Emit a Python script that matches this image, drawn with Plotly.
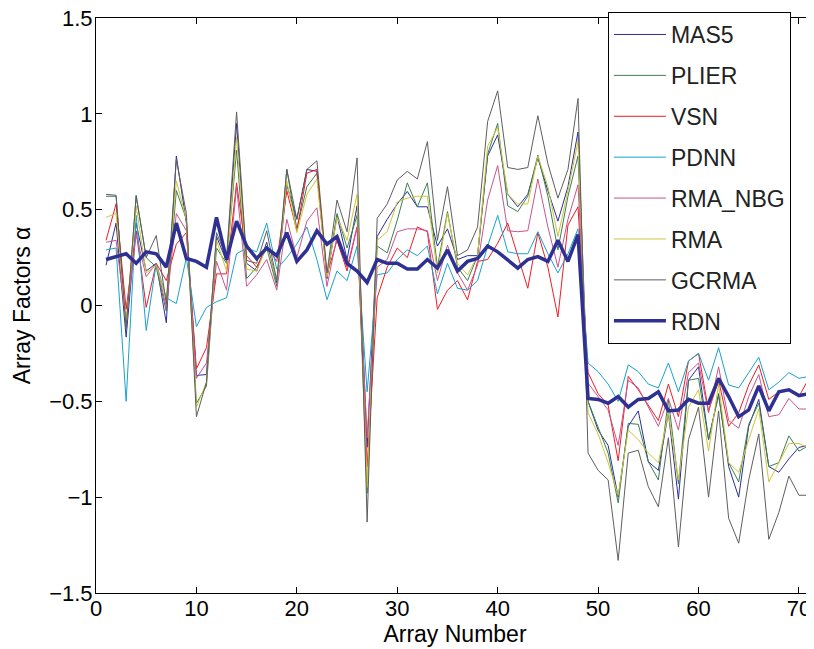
import plotly.graph_objects as go

array_number = list(range(1, 73))

mas5 = [0.21, 0.43, -0.165, 0.43, 0.18, 0.22, -0.09, 0.78, 0.43, -0.365,
        -0.36, 0.36, 0.23, 0.95, 0.22, 0.18, 0.33, 0.12, 0.63, 0.45,
        0.71, 0.70, 0.14, 0.47, 0.24, 0.52, -0.74, 0.36, 0.45, 0.53,
        0.595, 0.515, 0.515, 0.31, 0.40, 0.24, 0.26, 0.26, 0.78, 0.89,
        0.58, 0.515, 0.58, 0.77, 0.60, 0.44, 0.62, 0.905, -0.50, -0.65,
        -0.73, -1.00, -0.63, -0.55, -0.815, -0.86, -0.56, -1.01, -0.39, -0.32,
        -0.70, -0.46, -0.84, -1.00, -0.63, -0.49, -0.84, -0.87, -0.80, -0.74,
        -0.73, -0.76]

plier = [0.57, 0.57, -0.12, 0.57, 0.25, 0.20, -0.03, 0.60, 0.45, -0.51,
         -0.42, 0.30, 0.22, 0.81, 0.14, 0.20, 0.30, 0.10, 0.71, 0.40,
         0.62, 0.69, 0.15, 0.48, 0.30, 0.47, -0.98, 0.31, 0.275, 0.445,
         0.64, 0.515, 0.64, 0.20, 0.49, 0.20, 0.13, 0.26, 0.79, 0.95,
         0.52, 0.49, 0.57, 0.785, 0.57, 0.29, 0.57, 0.78, -0.50, -0.63,
         -0.77, -1.03, -0.615, -0.62, -0.815, -0.91, -0.49, -0.93, -0.39, -0.38,
         -0.70, -0.47, -0.82, -0.92, -0.62, -0.51, -0.84, -0.82, -0.68, -0.76,
         -0.73, -0.75]

vsn = [0.34, 0.53, -0.02, 0.39, -0.01, 0.22, 0.13, 0.32, 0.38, -0.33,
       -0.22, 0.165, 0.165, 0.64, 0.26, 0.20, 0.31, 0.23, 0.60, 0.39,
       0.69, 0.71, 0.16, 0.34, 0.18, 0.41, -0.84, 0.04, 0.20, 0.30,
       0.25, 0.41, 0.385, -0.02, 0.08, 0.13, 0.03, 0.23, 0.24, 0.325,
       0.43, 0.26, 0.09, 0.38, 0.20, -0.06, 0.42, 0.515, -0.35, -0.46,
       -0.52, -0.81, -0.37, -0.44, -0.52, -0.60, -0.41, -0.58, -0.29, -0.25,
       -0.55, -0.39, -0.63, -0.56, -0.415, -0.31, -0.49, -0.45, -0.44, -0.475,
       -0.38, -0.40]

pdnn = [0.29, 0.30, -0.50, 0.47, -0.13, 0.22, 0.04, 0.01, 0.25, -0.11,
        -0.01, 0.02, 0.04, 0.27, 0.30, 0.28, 0.43, 0.19, 0.25, 0.32,
        0.41, 0.24, 0.03, 0.18, 0.13, 0.31, -0.45, 0.16, 0.17, 0.24,
        0.29, 0.26, 0.31, 0.06, 0.22, 0.09, 0.08, 0.13, 0.31, 0.47,
        0.28, 0.27, 0.27, 0.385, 0.27, 0.17, 0.27, 0.40, -0.30, -0.345,
        -0.41, -0.50, -0.31, -0.345, -0.41, -0.43, -0.30, -0.45, -0.29, -0.25,
        -0.39, -0.22, -0.415, -0.43, -0.35, -0.27, -0.44, -0.40, -0.35, -0.38,
        -0.37, -0.36]

rma_nbg = [0.33, 0.34, -0.08, 0.37, 0.15, 0.22, -0.01, 0.48, 0.39, -0.38,
           -0.30, 0.23, 0.08, 0.62, 0.10, 0.16, 0.24, 0.08, 0.45, 0.25,
           0.44, 0.51, 0.10, 0.36, 0.20, 0.41, -0.69, 0.20, 0.24, 0.385,
           0.40, 0.40, 0.39, 0.13, 0.315, 0.17, 0.08, 0.21, 0.55, 0.73,
           0.39, 0.385, 0.39, 0.66, 0.41, 0.20, 0.45, 0.63, -0.405, -0.475,
           -0.545, -0.73, -0.39, -0.43, -0.53, -0.63, -0.485, -0.65, -0.35, -0.30,
           -0.56, -0.32, -0.60, -0.64, -0.475, -0.36, -0.58, -0.57, -0.485, -0.54,
           -0.54, -0.55]

rma = [0.46, 0.48, -0.10, 0.52, 0.17, 0.21, 0.03, 0.65, 0.45, -0.53,
       -0.40, 0.34, 0.18, 0.88, 0.19, 0.18, 0.31, 0.13, 0.65, 0.38,
       0.58, 0.66, 0.15, 0.46, 0.34, 0.58, -0.95, 0.34, 0.385, 0.54,
       0.56, 0.57, 0.57, 0.17, 0.48, 0.22, 0.16, 0.26, 0.83, 0.93,
       0.58, 0.53, 0.53, 0.78, 0.62, 0.36, 0.60, 0.855, -0.56, -0.67,
       -0.82, -0.99, -0.65, -0.70, -0.77, -0.82, -0.56, -0.91, -0.53, -0.44,
       -0.76, -0.41, -0.82, -0.87, -0.70, -0.54, -0.92, -0.82, -0.72, -0.72,
       -0.745, -0.78]

gcrma = [0.58, 0.575, -0.12, 0.575, 0.25, 0.365, 0.01, 0.76, 0.48, -0.58,
         -0.40, 0.38, 0.25, 1.01, 0.235, 0.22, 0.39, 0.13, 0.71, 0.45,
         0.71, 0.755, 0.17, 0.55, 0.385, 0.77, -1.13, 0.455, 0.53, 0.655,
         0.70, 0.66, 0.855, 0.34, 0.62, 0.26, 0.29, 0.41, 0.96, 1.12,
         0.72, 0.71, 0.72, 0.99, 0.74, 0.56, 0.71, 1.08, -0.77, -0.86,
         -0.91, -1.33, -0.77, -0.755, -0.945, -1.05, -0.69, -1.26, -0.70, -0.53,
         -1.00, -0.55, -1.11, -1.24, -0.91, -0.67, -1.22, -1.08, -0.89, -0.99,
         -0.99, -1.02]

rdn = [0.24, 0.255, 0.27, 0.22, 0.28, 0.27, 0.20, 0.43, 0.245, 0.23,
       0.20, 0.46, 0.24, 0.44, 0.31, 0.245, 0.30, 0.26, 0.38, 0.23,
       0.29, 0.39, 0.32, 0.36, 0.22, 0.18, 0.12, 0.24, 0.22, 0.22,
       0.19, 0.19, 0.24, 0.195, 0.29, 0.18, 0.23, 0.245, 0.31, 0.28,
       0.24, 0.195, 0.24, 0.255, 0.23, 0.34, 0.23, 0.37, -0.485, -0.49,
       -0.51, -0.475, -0.53, -0.49, -0.485, -0.45, -0.55, -0.545, -0.49, -0.51,
       -0.51, -0.38, -0.475, -0.58, -0.545, -0.42, -0.55, -0.45, -0.44, -0.47,
       -0.46, -0.50]

series_names = ["MAS5", "PLIER", "VSN", "PDNN", "RMA_NBG", "RMA", "GCRMA", "RDN"]
series_values = [mas5, plier, vsn, pdnn, rma_nbg, rma, gcrma, rdn]
series_colors = ["#2b2f9a", "#3a7f52", "#ee1c25", "#18a2cf", "#c9548f",
                 "#cfc43a", "#5e5e5e", "#2e3192"]
series_widths = [1, 1, 1, 1, 1, 1, 1, 3.5]

x_ticks = [0, 10, 20, 30, 40, 50, 60, 70]
y_ticks = [-1.5, -1, -0.5, 0, 0.5, 1, 1.5]

FONT = "Liberation Sans, Arial, sans-serif"

fig = go.Figure()
for name, vals, col, w in zip(series_names, series_values, series_colors, series_widths):
    fig.add_trace(go.Scatter(
        x=array_number, y=vals, mode="lines", name=name,
        legendgroup=name,
        line=dict(color=col, width=w),
    ))

axis_common = dict(
    showline=True, linecolor="black", linewidth=1, mirror="allticks",
    ticks="inside", ticklen=6, tickcolor="black", tickwidth=1,
    showgrid=False, zeroline=False, automargin=False,
    ticklabeloverflow="allow",
    tickfont=dict(family=FONT, size=22, color="black"),
)

fig.update_xaxes(range=[0, 71.5], tickvals=x_ticks, ticklabelstandoff=-4,
                 title=dict(text="Array Number", font=dict(family=FONT, size=23, color="black"), standoff=0),
                 **axis_common)
fig.update_yaxes(range=[-1.5, 1.5], tickvals=y_ticks, ticklabelstandoff=-2,
                 ticktext=["\u22121.5", "\u22121", "\u22120.5", "0", "0.5", "1", "1.5"],
                 title=dict(text="Array Factors \u03b1", font=dict(family=FONT, size=23, color="black"), standoff=12),
                 **axis_common)

# page body has an 8px margin; figure sized so the page is exactly 814x649
fig.update_layout(
    width=806, height=641,
    margin=dict(l=88, r=0, t=10, b=56),
    paper_bgcolor="white", plot_bgcolor="white",
    font=dict(family=FONT, color="black"),
    showlegend=True,
    legend=dict(
        x=0.713, y=1.0104, xanchor="left", yanchor="top",
        bgcolor="white", bordercolor="black", borderwidth=1,
        font=dict(family=FONT, size=23, color="#222222"),
        tracegroupgap=8, itemwidth=52, maxheight=640,
    ),
)

fig.write_html("out.html")
